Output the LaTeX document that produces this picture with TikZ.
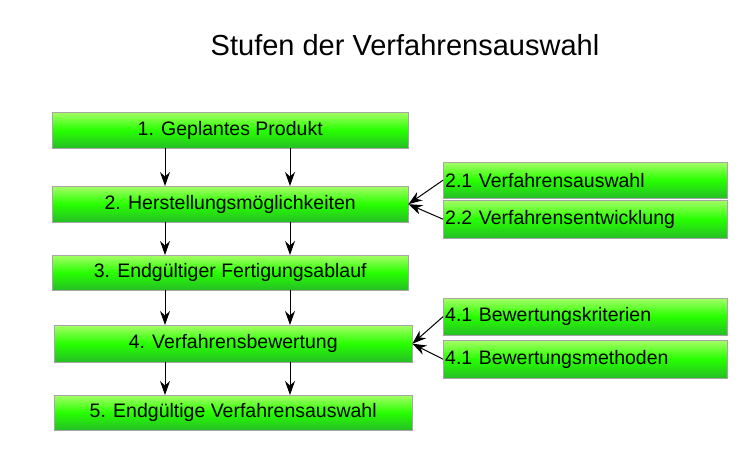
\documentclass[tikz,border=0pt]{standalone}
\usepackage{fontspec}
\setmainfont{Liberation Sans}
\usetikzlibrary{arrows.meta}
\begin{document}
\begin{tikzpicture}[x=1pt,y=-1pt,
 box/.style={draw=gray!70,top color=green!45!lime!60!white,bottom color=green!70!black!85,middle color=green!80!lime,inner sep=0pt,anchor=north west,font=\fontsize{19.5}{22}\selectfont},
 rbox/.style={box,align=left,text width=280pt,minimum width=284pt},
 arr/.style={-{Stealth[length=14pt,width=10pt]},line width=1pt}]
\useasboundingbox (0,0) rectangle (750,470);
\node[font=\fontsize{29}{32}\selectfont] (t) at (405,45) {Stufen der Verfahrensauswahl};
\node[box,minimum width=356pt,minimum height=36pt] (b1) at (52,112) {1. Geplantes Produkt};
\node[box,minimum width=356pt,minimum height=36pt] (b2) at (52,186) {2. Herstellungsmöglichkeiten};
\node[box,minimum width=356pt,minimum height=35pt] (b3) at (52,255) {3. Endgültiger Fertigungsablauf};
\node[box,minimum width=358pt,minimum height=37pt] (b4) at (54,325) {4. Verfahrensbewertung};
\node[box,minimum width=358pt,minimum height=35pt] (b5) at (54,395) {5. Endgültige Verfahrensauswahl};
\node[rbox,minimum height=36pt] (r1) at (443,162) {2.1 Verfahrensauswahl};
\node[rbox,minimum height=38pt] (r2) at (443,200) {2.2 Verfahrensentwicklung};
\node[rbox,minimum height=37pt] (r3) at (443,298) {4.1 Bewertungskriterien};
\node[rbox,minimum height=38pt] (r4) at (443,340) {4.1 Bewertungsmethoden};
\foreach \a/\b in {b1/b2,b2/b3,b3/b4,b4/b5}{
 \draw[arr] (\a.south west -| 165,0) -- (\b.north west -| 165,0);
 \draw[arr] (\a.south west -| 290,0) -- (\b.north west -| 290,0);}
\draw[arr] (r1.west) -- (b2.east);
\draw[arr] (r2.west) -- (b2.east);
\draw[arr] (r3.west) -- (b4.east);
\draw[arr] (r4.west) -- (b4.east);
\end{tikzpicture}
\end{document}
